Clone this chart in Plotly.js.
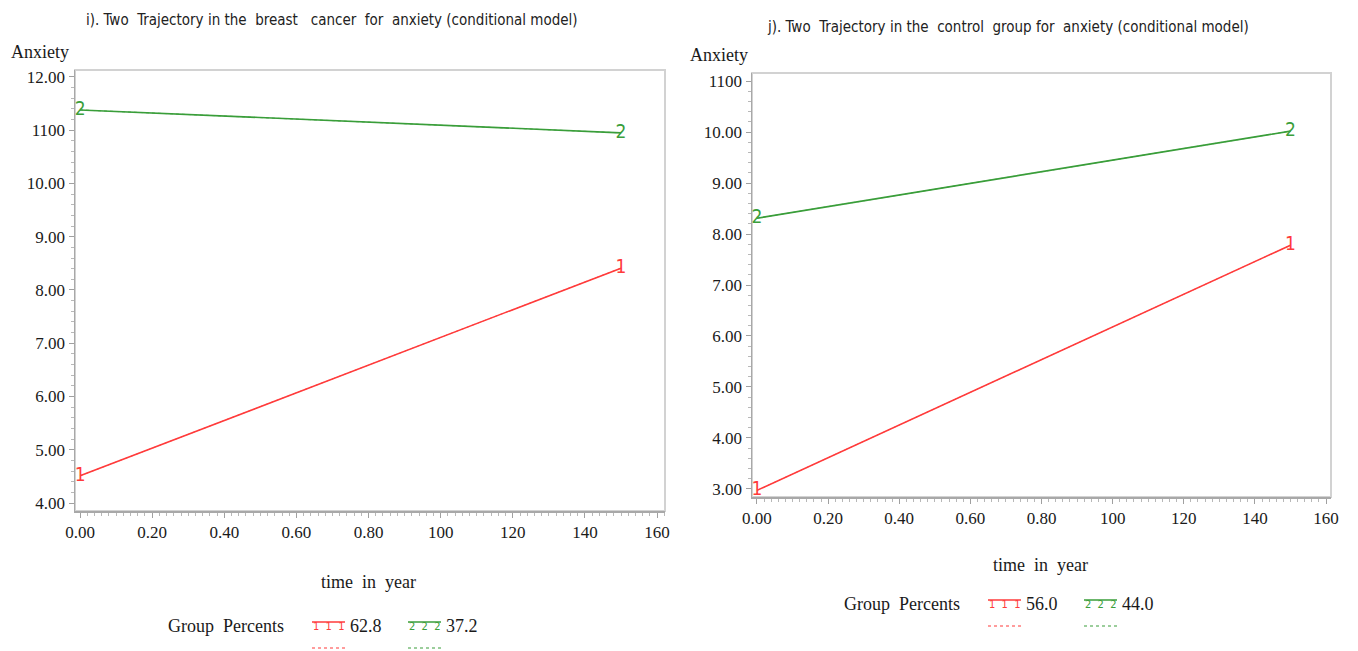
<!DOCTYPE html>
<html>
<head>
<meta charset="utf-8">
<script src="https://cdn.plot.ly/plotly-3.0.1.min.js"></script>
<style>html,body{margin:0;padding:0;background:#fff;}#chart{width:1358px;height:651px;}</style>
</head>
<body>
<div id="chart"></div>
<script>
// ---- data ----
const timeYears = [0, 1.5];
const bcGroup1 = [4.51, 8.41];
const bcGroup2 = [11.38, 10.95];
const ctrlGroup1 = [2.97, 7.78];
const ctrlGroup2 = [8.31, 10.02];
const bcPercents = ['62.8', '37.2'];
const ctrlPercents = ['56.0', '44.0'];
const groupLabels = ['1', '2'];
const xTickVals = [0, 0.2, 0.4, 0.6, 0.8, 1.0, 1.2, 1.4, 1.6];
const xTickText = ['0.00', '0.20', '0.40', '0.60', '0.80', '100', '120', '140', '160'];
const bcYTickVals = [4, 5, 6, 7, 8, 9, 10, 11, 12];
const bcYTickText = ['4.00', '5.00', '6.00', '7.00', '8.00', '9.00', '10.00', '1100', '12.00'];
const ctrlYTickVals = [3, 4, 5, 6, 7, 8, 9, 10, 11];
const ctrlYTickText = ['3.00', '4.00', '5.00', '6.00', '7.00', '8.00', '9.00', '10.00', '1100'];
const titles = [
  'i). Two  Trajectory in the  breast   cancer  for  anxiety (conditional model)',
  'j). Two  Trajectory in the  control  group for  anxiety (conditional model)'
];

const RED = '#ff3b3b';
const GREEN = '#3a9e3a';
const colors = [RED, GREEN];
const serif = 'Liberation Serif, serif';
const sans = 'Liberation Sans Narrow, DejaVu Sans Condensed, sans-serif';

function groupTraces(y, ci, xa, ya) {
  const c = colors[ci];
  return [
    {x: timeYears, y: y, xaxis: xa, yaxis: ya, type: 'scatter', mode: 'lines+text',
     text: [groupLabels[ci], groupLabels[ci]], textposition: 'middle center',
     textfont: {family: 'DejaVu Sans Condensed, sans-serif', size: 19, color: c},
     line: {color: c, width: 1.6}, showlegend: false, hoverinfo: 'skip'},
    {x: timeYears, y: y, xaxis: xa, yaxis: ya, type: 'scatter', mode: 'lines',
     line: {color: c, width: 1, dash: '3px,3px'}, opacity: 0.8, showlegend: false, hoverinfo: 'skip'}
  ];
}

const data = [].concat(
  groupTraces(bcGroup1, 0, 'x', 'y'),
  groupTraces(bcGroup2, 1, 'x', 'y'),
  groupTraces(ctrlGroup1, 0, 'x2', 'y2'),
  groupTraces(ctrlGroup2, 1, 'x2', 'y2')
);

const W = 1358, H = 651;
const px = v => v / W;
const py = v => 1 - v / H;

function xAxis(domain, range) {
  return {
    domain: domain, range: range, tickvals: xTickVals, ticktext: xTickText,
    showline: true, linecolor: '#a8a8a8', linewidth: 1.5, showgrid: false, zeroline: false,
    ticks: 'outside', ticklen: 5, tickcolor: '#a0a0a0', tickwidth: 1,
    minor: {ticks: 'outside', ticklen: 3, dtick: 0.02, tickcolor: '#b8b8b8', showgrid: false},
    tickfont: {family: serif, size: 17, color: '#1a1a1a'}, fixedrange: true
  };
}
function yAxis(domain, range, vals, text, anchor) {
  return {
    domain: domain, range: range, tickvals: vals, ticktext: text, anchor: anchor,
    showline: true, linecolor: '#a8a8a8', linewidth: 1.5, showgrid: false, zeroline: false,
    ticks: 'outside', ticklen: 5, tickcolor: '#a0a0a0', tickwidth: 1,
    minor: {ticks: 'outside', ticklen: 3, dtick: 0.2, tickcolor: '#b8b8b8', showgrid: false},
    tickfont: {family: serif, size: 17, color: '#1a1a1a'}, fixedrange: true
  };
}

const shapes = [];
const annotations = [];
function note(text, x, y, font, xanchor) {
  annotations.push({text: text, x: px(x), y: py(y), xref: 'paper', yref: 'paper', showarrow: false,
    xanchor: xanchor || 'center', yanchor: 'middle', font: font});
}

// plot frames
[['x', 'y'], ['x2', 'y2']].forEach(([xa, ya]) => {
  shapes.push({type: 'rect', xref: xa + ' domain', yref: ya + ' domain', x0: 0, x1: 1, y0: 0, y1: 1,
    line: {color: '#d2d2d2', width: 2}, layer: 'below'});
});

const titleFont = {family: sans, size: 15, color: '#222'};
const labelFont = {family: serif, size: 18, color: '#1a1a1a'};
note(titles[0], 332, 20, titleFont);
note(titles[1], 1008, 27, titleFont);
note('Anxiety', 40, 52, labelFont);
note('Anxiety', 719, 55, labelFont);
note('time  in  year', 368, 582, labelFont);
note('time  in  year', 1040, 565, labelFont);

// legends
function legend(cx, cy, percents) {
  note('Group  Percents', cx, cy, labelFont, 'left');
  const starts = [cx + 146, cx + 242];
  percents.forEach((p, i) => {
    const s = starts[i];
    shapes.push({type: 'line', xref: 'paper', yref: 'paper', x0: px(s), x1: px(s + 33), y0: py(cy - 4), y1: py(cy - 4),
      line: {color: colors[i], width: 1.4}});
    note(groupLabels[i] + '  ' + groupLabels[i] + '  ' + groupLabels[i], s + 16.5, cy,
      {family: 'DejaVu Sans Condensed, sans-serif', size: 11, color: colors[i]});
    note(p, s + 36, cy, labelFont, 'left');
    shapes.push({type: 'line', xref: 'paper', yref: 'paper', x0: px(s), x1: px(s + 33), y0: py(cy + 22), y1: py(cy + 22),
      line: {color: colors[i], width: 1.2, dash: '3px,3px'}});
  });
}
legend(166, 626, bcPercents);
legend(842, 604, ctrlPercents);

const layout = {
  width: W, height: H, margin: {l: 0, r: 0, t: 0, b: 0},
  paper_bgcolor: '#fff', plot_bgcolor: '#fff', showlegend: false,
  xaxis: xAxis([px(75), px(665)], [-0.014, 1.622]),
  yaxis: yAxis([py(511), py(70)], [3.85, 12.13], bcYTickVals, bcYTickText, 'x'),
  xaxis2: Object.assign(xAxis([px(752), px(1331)], [-0.014, 1.614]), {anchor: 'y2'}),
  yaxis2: yAxis([py(497), py(73)], [2.84, 11.16], ctrlYTickVals, ctrlYTickText, 'x2'),
  shapes: shapes, annotations: annotations
};

Plotly.newPlot('chart', data, layout, {staticPlot: true, displayModeBar: false});
</script>
</body>
</html>
